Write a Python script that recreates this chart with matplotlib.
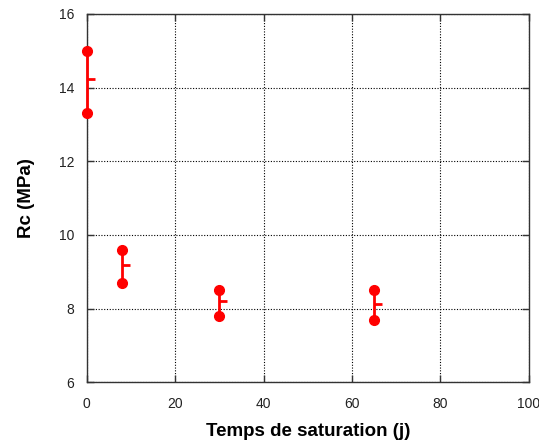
import matplotlib
matplotlib.use("Agg")
import matplotlib.pyplot as plt

# data
temps = [0, 8, 30, 65]
rc_max = [15.0, 9.6, 8.5, 8.5]
rc_min = [13.3, 8.7, 7.8, 7.7]
rc_moy = [14.23, 9.18, 8.2, 8.13]

plt.rcParams["font.family"] = ["Liberation Sans", "DejaVu Sans"]

fig = plt.figure(figsize=(5.39, 4.47), dpi=100)
ax = fig.add_axes([0.161, 0.145, 0.820, 0.824])

red = "#ff0000"
ax.vlines(temps, rc_min, rc_max, color=red, linewidth=2, zorder=5, clip_on=False)
ax.plot(temps, rc_max, "o", color=red, markersize=7, zorder=5, clip_on=False)
ax.plot(temps, rc_min, "o", color=red, markersize=7, zorder=5, clip_on=False)
ax.plot(temps, rc_moy, linestyle="none", marker=1, color=red,
        markersize=6, markeredgewidth=2, zorder=5, clip_on=False)

ax.set_xlim(0, 100)
ax.set_ylim(6, 16)
ax.set_xticks(range(0, 101, 20))
ax.set_yticks(range(6, 17, 2))
ax.grid(True, color="black", linestyle=(0, (1, 1.5)), linewidth=0.8)
ax.tick_params(direction="in", length=5, width=1, top=True, right=True,
               labelsize=10, colors="#333333", labelcolor="#222222")
ax.tick_params(axis="x", pad=11)
ax.tick_params(axis="y", pad=9)
for s in ax.spines.values():
    s.set_linewidth(1)
    s.set_color("#333333")

ax.set_xlabel("Temps de saturation (j)", fontsize=13.5, fontweight="bold", labelpad=8)
ax.set_ylabel("Rc (MPa)", fontsize=13.5, fontweight="bold", labelpad=17)

fig.savefig("out.png", dpi=100)
